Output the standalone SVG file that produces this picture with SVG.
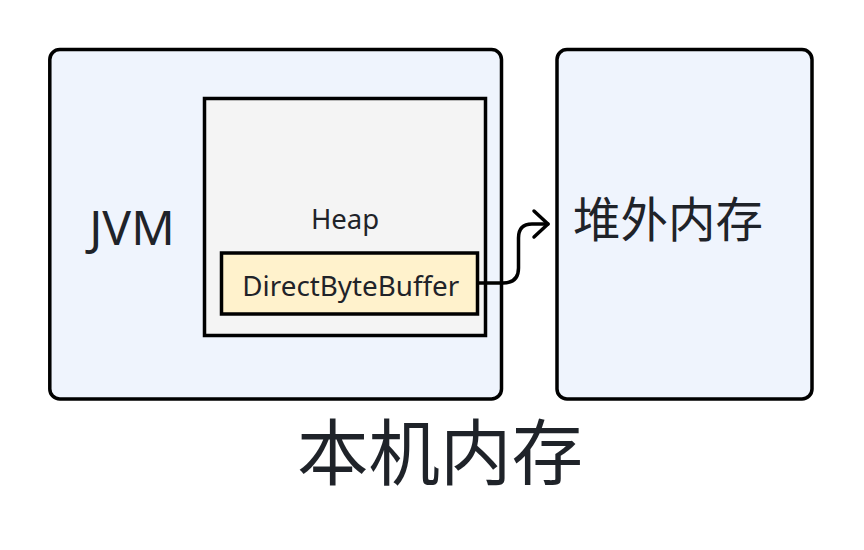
<svg xmlns="http://www.w3.org/2000/svg" width="864" height="550" viewBox="0 0 864 550">
<style>
.box{fill:#eff4fd;stroke:#000;stroke-width:3.5}
.heap{fill:#f4f4f4;stroke:#000;stroke-width:3.5}
.dbb{fill:#fff2cc;stroke:#000;stroke-width:3.5}
.t{font-family:"Noto Sans","Noto Sans CJK SC",sans-serif;fill:#1f2329}
.conn{fill:none;stroke:#000;stroke-width:3.5;stroke-linecap:round;stroke-linejoin:round}
</style>
<rect width="864" height="550" fill="#fff"/>
<g id="jvm">
<rect class="box" x="49.8" y="49.5" width="451.7" height="349.5" rx="10"/>
<text class="t" x="132" y="245" font-size="48" text-anchor="middle">JVM</text>
</g>
<g id="offheap">
<rect class="box" x="557" y="49.5" width="255" height="349.5" rx="10"/>
<text class="t" x="573" y="237" font-size="47.5">堆外内存</text>
</g>
<g id="heap">
<rect class="heap" x="204.5" y="98.5" width="281" height="237"/>
<text class="t" x="345" y="229" font-size="27.5" text-anchor="middle">Heap</text>
</g>
<g id="directbytebuffer">
<rect class="dbb" x="221.5" y="253" width="256" height="61"/>
<text class="t" x="350.8" y="295.5" font-size="27.8" text-anchor="middle">DirectByteBuffer</text>
</g>
<g id="native">
<text class="t" x="440" y="479" font-size="71.5" text-anchor="middle">本机内存</text>
</g>
<g id="connectors">
<path class="conn" d="M479,283 H503 Q518.5,283 518.5,268 V238 Q518.5,224 532,224 H548"/>
<path class="conn" d="M534,211 L548,224 L534,237"/>
</g>
</svg>
